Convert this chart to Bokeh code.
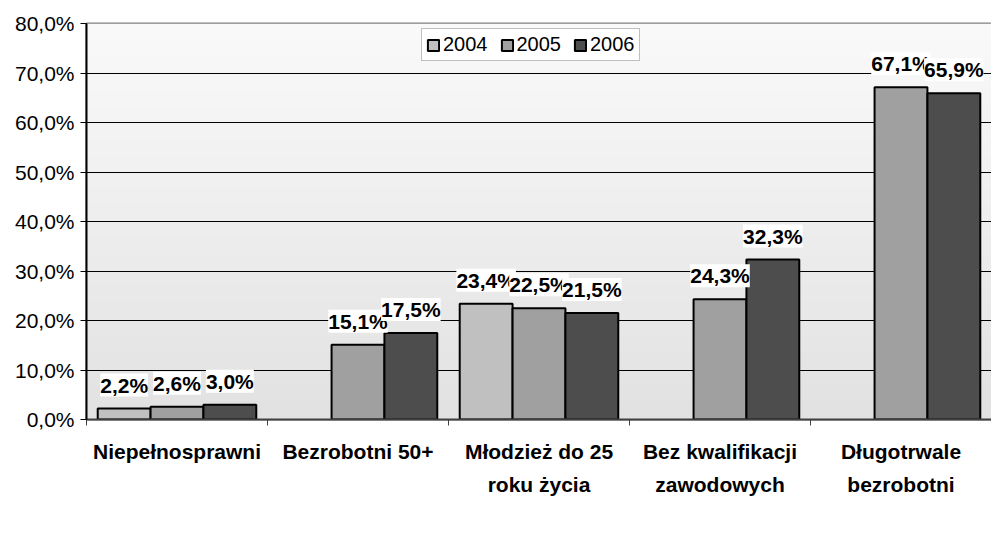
import numpy as np
from bokeh.plotting import figure
from bokeh.core.properties import value
from bokeh.models import (ColumnDataSource, FixedTicker, LabelSet, Legend, LegendItem,
                          Range1d, LinearAxis)
from bokeh.embed import file_html
from bokeh.resources import INLINE

categories_line1 = ["Niepełnosprawni", "Bezrobotni 50+", "Młodzież do 25",
                    "Bez kwalifikacji", "Długotrwale"]
categories_line2 = ["", "", "roku życia", "zawodowych", "bezrobotni"]
years = ["2004", "2005", "2006"]
v2004 = [2.2, None, 23.4, None, None]
v2005 = [2.6, 15.1, 22.5, 24.3, 67.1]
v2006 = [3.0, 17.5, 21.5, 32.3, 65.9]
y_ticks = [0, 10, 20, 30, 40, 50, 60, 70, 80]
y_tick_labels = ["0,0%", "10,0%", "20,0%", "30,0%", "40,0%", "50,0%", "60,0%", "70,0%", "80,0%"]

colors = ["#C0C0C0", "#A0A0A0", "#4D4D4D"]
FONT = "Liberation Sans"
BW = 0.292
NC = len(categories_line1)

p = figure(frame_width=905, frame_height=396, output_backend="svg", toolbar_location=None,
           x_range=Range1d(0, NC), y_range=Range1d(0, 80),
           min_border_left=86, min_border_top=23, min_border_right=0, min_border_bottom=0)
p.background_fill_color = "white"
p.border_fill_color = "white"
p.outline_line_color = "#808080"
p.outline_line_width = 2

# background gradient of the plot area
n = 200
t = np.linspace(0, 1, n)
lo, hi = 0xE2, 0xFA
g = (lo + (hi - lo) * t).astype(np.uint8)
img = np.zeros((n, 1), dtype=np.uint32)
view = img.view(dtype=np.uint8).reshape((n, 1, 4))
view[:, 0, 0] = g
view[:, 0, 1] = g
view[:, 0, 2] = g
view[:, 0, 3] = 255
p.image_rgba(image=[img], x=0, y=0, dw=NC, dh=80, level="image")

series = [v2004, v2005, v2006]
offsets = [-BW, 0, BW]
renderers = []
label_sources = []
for vals, off, col in zip(series, offsets, colors):
    xs, tops, txt = [], [], []
    for i, v in enumerate(vals):
        if v is None:
            continue
        xs.append(i + 0.5 + off)
        tops.append(v)
        txt.append(f"{v:.1f}%".replace(".", ","))
    src = ColumnDataSource(dict(x=xs, top=tops, txt=txt))
    r = p.vbar(x="x", top="top", width=BW, source=src, fill_color=col,
               line_color="black", line_width=2)
    renderers.append(r)
    label_sources.append(src)

for src in label_sources:
    labels = LabelSet(x="x", y="top", text="txt", source=src, y_offset=12,
                      text_align="center", text_baseline="bottom",
                      text_font=value(FONT), text_font_size="21px", text_font_style="bold",
                      text_color="black", background_fill_color="white")
    p.add_layout(labels)

# y axis
yax = p.yaxis[0]
yax.ticker = FixedTicker(ticks=y_ticks, minor_ticks=[])
yax.major_label_overrides = {t_: l for t_, l in zip(y_ticks, y_tick_labels)}
yax.major_label_text_font = FONT
yax.major_label_text_font_size = "21px"
yax.major_label_text_color = "black"
yax.axis_line_color = "black"
yax.axis_line_width = 2
yax.major_tick_in = 0
yax.major_tick_out = 6
yax.major_tick_line_color = "black"
yax.major_label_standoff = 6

p.ygrid.ticker = FixedTicker(ticks=y_ticks[:-1])
p.ygrid.grid_line_color = "black"
p.ygrid.grid_line_width = 1
p.xgrid.grid_line_color = None

# x axis: first line of category names at centres, tick marks at category boundaries
centers = [i + 0.5 for i in range(NC)]
xax = p.xaxis[0]
xax.ticker = FixedTicker(ticks=centers, minor_ticks=list(range(NC + 1)))
xax.major_label_overrides = {c: s for c, s in zip(centers, categories_line1)}
xax.major_label_text_font = FONT
xax.major_label_text_font_size = "21px"
xax.major_label_text_font_style = "bold"
xax.major_label_text_color = "black"
xax.axis_line_color = "#404040"
xax.axis_line_width = 2
xax.major_tick_in = 0
xax.major_tick_out = 0
xax.minor_tick_in = 0
xax.minor_tick_out = 6
xax.minor_tick_line_color = "#404040"
xax.major_label_standoff = 14

# second line of the category names
xax2 = LinearAxis(ticker=FixedTicker(ticks=centers, minor_ticks=[]),
                  major_label_overrides={c: s for c, s in zip(centers, categories_line2)})
xax2.major_label_text_font = FONT
xax2.major_label_text_font_size = "21px"
xax2.major_label_text_font_style = "bold"
xax2.major_label_text_color = "black"
xax2.axis_line_color = None
xax2.major_tick_line_color = None
xax2.minor_tick_line_color = None
xax2.major_tick_in = 0
xax2.major_tick_out = 0
xax2.minor_tick_in = 0
xax2.minor_tick_out = 0
xax2.major_label_standoff = 7
p.add_layout(xax2, "below")

# legend kept inside the visible area (empty upper middle region of the plot)
legend = Legend(items=[LegendItem(label=y, renderers=[r]) for y, r in zip(years, renderers)],
                orientation="horizontal", location=(335, 358))
legend.label_text_font = FONT
legend.label_text_font_size = "20px"
legend.label_text_color = "black"
legend.border_line_color = "#808080"
legend.border_line_width = 1
legend.glyph_width = 14
legend.glyph_height = 14
legend.label_standoff = 3
legend.spacing = 12
legend.padding = 4
legend.margin = 0
legend.label_height = 20
legend.background_fill_color = "white"
p.add_layout(legend)

open("out.html", "w").write(file_html(p, INLINE))
